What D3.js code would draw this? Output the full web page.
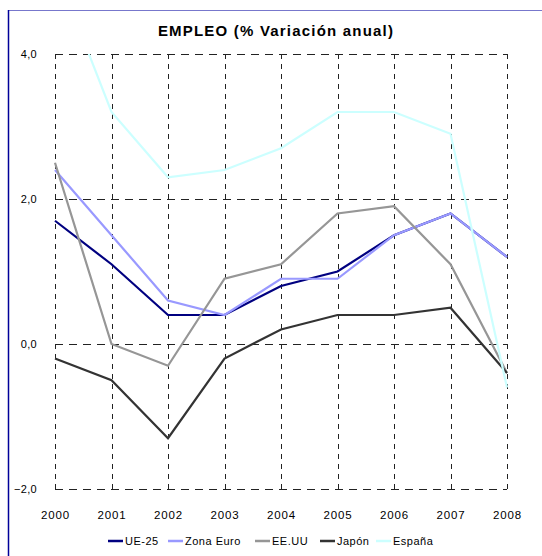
<!DOCTYPE html>
<html>
<head>
<meta charset="utf-8">
<script src="https://cdn.jsdelivr.net/npm/d3@7"></script>
<style>
  body { margin: 0; background: #fff; }
  svg { display: block; font-family: "Liberation Sans", Arial, sans-serif; }
</style>
</head>
<body>
<div id="chart"></div>
<script>
// data
var years = [2000, 2001, 2002, 2003, 2004, 2005, 2006, 2007, 2008];
var ue25     = [1.7, 1.1, 0.4, 0.4, 0.8, 1.0, 1.5, 1.8, 1.2];
var zonaEuro = [2.4, 1.5, 0.6, 0.4, 0.9, 0.9, 1.5, 1.8, 1.2];
var eeuu     = [2.5, 0.0, -0.3, 0.9, 1.1, 1.8, 1.9, 1.1, -0.4];
var japon    = [-0.2, -0.5, -1.3, -0.2, 0.2, 0.4, 0.4, 0.5, -0.4];
var espana   = [5.2, 3.2, 2.3, 2.4, 2.7, 3.2, 3.2, 2.9, -0.6];
var yTicks = [-2, 0, 2, 4];

var seriesNames = ["UE-25", "Zona Euro", "EE.UU", "Japón", "España"];
var seriesVals = [ue25, zonaEuro, eeuu, japon, espana];
var colors = ["#000080", "#9999ff", "#969696", "#333333", "#ccffff"];

var W = 542, H = 556;
var svg = d3.select("#chart").append("svg").attr("width", W).attr("height", H);

// frame lines
svg.append("line").attr("x1", 8).attr("y1", 10.5).attr("x2", W).attr("y2", 10.5)
    .attr("stroke", "#7777cc").attr("stroke-width", 1.2);
svg.append("line").attr("x1", 8.5).attr("y1", 10).attr("x2", 8.5).attr("y2", H)
    .attr("stroke", "#000099").attr("stroke-width", 1.5);

var x = d3.scalePoint().domain(years).range([55, 507]);
var y = d3.scaleLinear().domain([-2, 4]).range([489, 54]);

svg.append("text")
    .attr("x", 276).attr("y", 36)
    .attr("text-anchor", "middle")
    .attr("font-size", 15).attr("font-weight", "bold")
    .attr("letter-spacing", 1.2)
    .text("EMPLEO (% Variación anual)");

// grid
var grid = svg.append("g").attr("stroke", "#222").attr("stroke-width", 1);
grid.selectAll("line.h").data(yTicks).enter().append("line")
    .attr("class", "h")
    .attr("stroke-dasharray", "8,6")
    .attr("x1", x(2000)).attr("x2", x(2008))
    .attr("y1", function(d) { return Math.round(y(d)) + 0.5; })
    .attr("y2", function(d) { return Math.round(y(d)) + 0.5; });
grid.selectAll("line.v").data(years).enter().append("line")
    .attr("class", "v")
    .attr("stroke-dasharray", "5,5")
    .attr("x1", function(d) { return Math.round(x(d)) + 0.5; })
    .attr("x2", function(d) { return Math.round(x(d)) + 0.5; })
    .attr("y1", y(4)).attr("y2", y(-2));

// axes (labels only)
var yAxis = svg.append("g").attr("transform", "translate(" + 40 + ",0)")
    .call(d3.axisLeft(y).tickValues(yTicks).tickSize(0)
      .tickFormat(function(d) { return d3.format(".1f")(d).replace(".", ","); }));
yAxis.select(".domain").remove();
yAxis.selectAll("text").attr("font-size", 11).attr("font-family", "Liberation Sans, Arial")
    .attr("fill", "#000").attr("dx", 0).attr("letter-spacing", 0.3);

var xAxis = svg.append("g").attr("transform", "translate(0," + 508 + ")")
    .call(d3.axisBottom(x).tickSize(0).tickFormat(d3.format("d")));
xAxis.select(".domain").remove();
xAxis.selectAll("text").attr("font-size", 11.5).attr("font-family", "Liberation Sans, Arial")
    .attr("fill", "#000").attr("letter-spacing", 0.8);

svg.append("clipPath").attr("id", "clip")
  .append("rect").attr("x", 0).attr("y", y(4)).attr("width", W).attr("height", y(-2) - y(4) + 20);

var line = d3.line()
    .x(function(d, i) { return x(years[i]); })
    .y(function(d) { return y(d); });

svg.append("g").attr("clip-path", "url(#clip)")
  .selectAll("path").data(seriesVals).enter().append("path")
    .attr("d", function(d) { return line(d); })
    .attr("fill", "none")
    .attr("stroke", function(d, i) { return colors[i]; })
    .attr("stroke-width", 2.2);

// legend
var legX = [108, 168, 255, 320, 376];
var leg = svg.append("g").selectAll("g").data(seriesNames).enter().append("g")
    .attr("transform", function(d, i) { return "translate(" + legX[i] + ",541)"; });
leg.append("line").attr("x1", 0).attr("x2", 15).attr("y1", 0).attr("y2", 0)
    .attr("stroke", function(d, i) { return colors[i]; }).attr("stroke-width", 2.5);
leg.append("text").attr("x", 17).attr("y", 4).attr("font-size", 11)
    .attr("letter-spacing", 0.5)
    .text(function(d) { return d; });
</script>
</body>
</html>
